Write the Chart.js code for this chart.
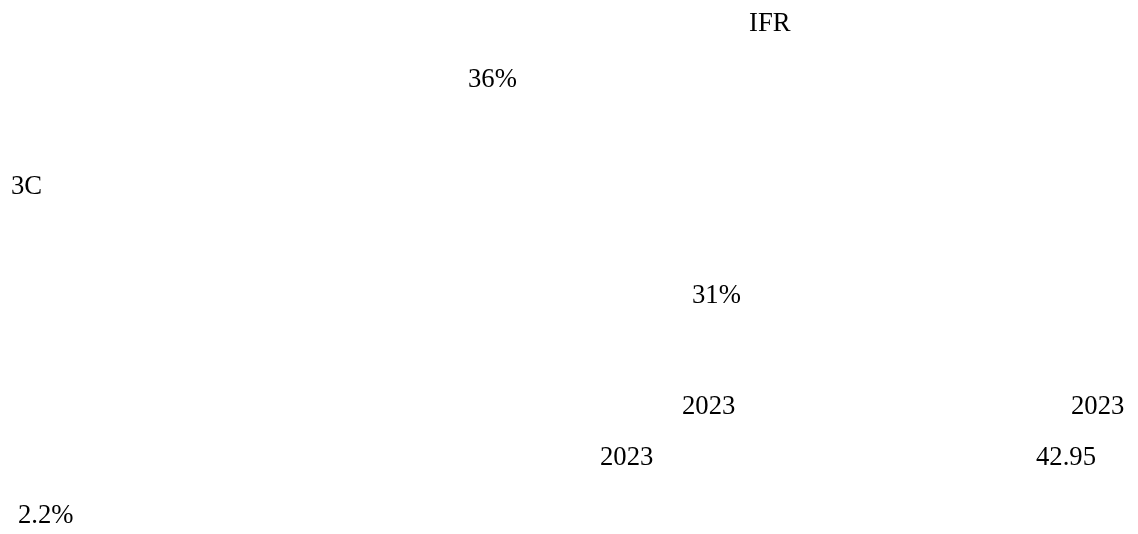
<!DOCTYPE html>
<html>
<head>
<meta charset="utf-8">
<script src="https://cdn.jsdelivr.net/npm/chart.js@4"></script>
<style>
  body { margin: 0; background: #fff; }
</style>
</head>
<body>
<canvas id="textChart" width="1138" height="534"></canvas>
<script>
// text fragments left over on the picture, with where they sit (x = left edge, y = baseline)
const fragments = ["IFR", "36%", "3C", "31%", "2023", "2023", "2023", "42.95", "2.2%"];
const fragmentX = [749, 468, 11, 692, 682, 1071, 600, 1036, 18];
const fragmentY = [31, 87, 194, 303, 414, 414, 465, 465, 523];

const textPlugin = {
    id: 'fragmentText',
    afterDatasetsDraw(chart) {
        const ctx = chart.ctx;
        const meta = chart.getDatasetMeta(0);
        ctx.save();
        ctx.fillStyle = '#000';
        ctx.font = '26.7px "Liberation Serif", "Times New Roman", serif';
        ctx.textAlign = 'left';
        ctx.textBaseline = 'alphabetic';
        meta.data.forEach(function (pt, i) {
            ctx.fillText(fragments[i], pt.x, pt.y);
        });
        ctx.restore();
    }
};

new Chart(document.getElementById("textChart"), {
    type: "scatter",
    data: {
        datasets: [
            {
                label: "",
                data: fragmentX.map(function (x, i) { return { x: x, y: fragmentY[i] }; }),
                pointRadius: 0,
                pointHoverRadius: 0
            }
        ]
    },
    options: {
        responsive: false,
        animation: false,
        layout: { padding: 0 },
        scales: {
            x: { type: 'linear', min: 0, max: 1138, display: false },
            y: { type: 'linear', min: 0, max: 534, reverse: true, display: false }
        },
        plugins: {
            legend: { display: false },
            tooltip: { enabled: false }
        }
    },
    plugins: [textPlugin]
})
</script>
</body>
</html>
